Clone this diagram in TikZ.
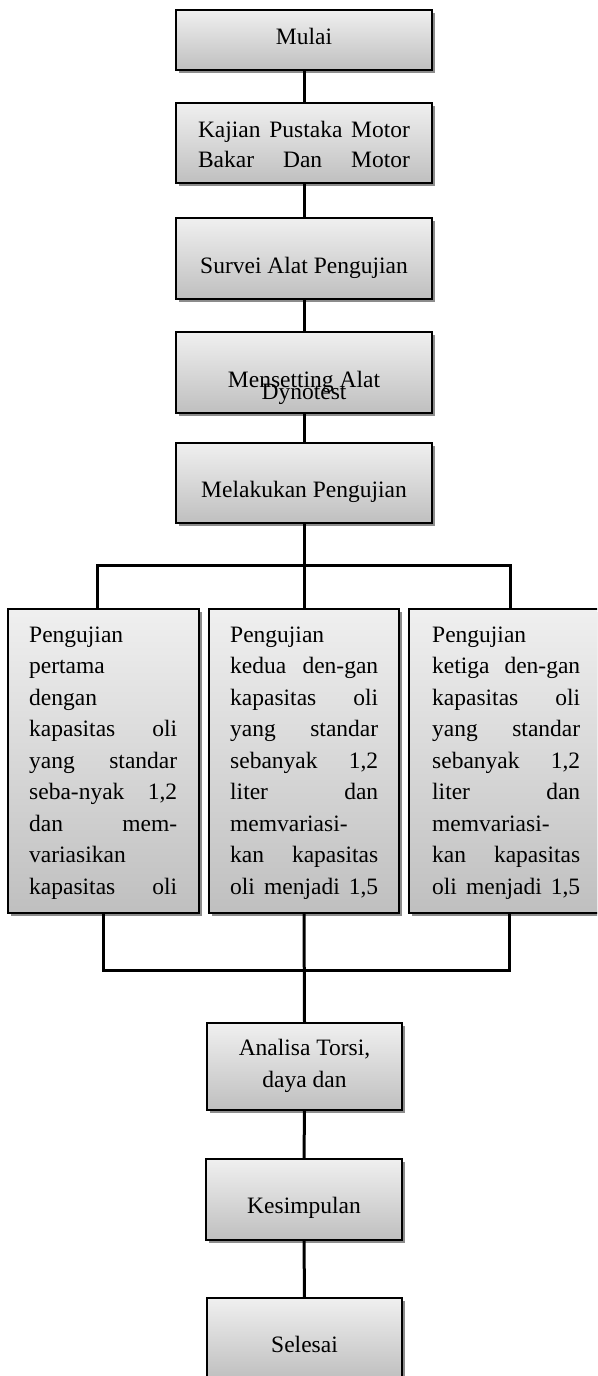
\documentclass[tikz,border=0pt]{standalone}
\usepackage{fontspec}
\setmainfont{Liberation Serif}
\usetikzlibrary{shadows}
\newcommand\jl[1]{\hbox to\hsize{#1}}
\newcommand\sidetext[1]{\vtop{\hsize=148pt\baselineskip=31.5pt\lineskiplimit=-100pt #1}}
\begin{document}
\begin{tikzpicture}[x=1pt,y=-1pt,
  box/.style={draw=black, line width=1.6pt, top color=black!6, bottom color=black!25,
    drop shadow={shadow xshift=3pt,shadow yshift=-3pt,fill=black!45,opacity=1},
    inner sep=0pt},
  txt/.style={font=\fontsize{23.5}{31.5}\selectfont, inner sep=0pt, anchor=base},
  stxt/.style={font=\fontsize{23.5}{31.5}\selectfont, inner sep=0pt, anchor=base west},
  conn/.style={line width=3pt, line join=miter}]
\clip (0,0) rectangle (597,1376);
\fill[white] (0,0) rectangle (597,1376);
% boxes
\node[box, minimum width=256pt, minimum height=60pt] (mulai) at (304,40) {};
\node[box, minimum width=256pt, minimum height=80pt] (kajian) at (304,143) {};
\node[box, minimum width=256pt, minimum height=81pt] (survei) at (304,258.5) {};
\node[box, minimum width=256pt, minimum height=81pt] (setting) at (304,372.5) {};
\node[box, minimum width=256pt, minimum height=80pt] (lakukan) at (304,483) {};
\node[box, minimum width=191pt, minimum height=304pt] (p1) at (103.5,761) {};
\node[box, minimum width=190pt, minimum height=304pt] (p2) at (304,761) {};
\node[box, minimum width=201pt, minimum height=304pt] (p3) at (509.5,761) {};
\node[box, minimum width=195pt, minimum height=87pt] (analisa) at (304.5,1066.5) {};
\node[box, minimum width=196pt, minimum height=81pt] (simpul) at (304,1199.5) {};
\node[box, minimum width=195pt, minimum height=81pt] (selesai) at (304.5,1338.5) {};
% connectors
\draw[conn] (mulai.south) -- (kajian.north);
\draw[conn] (kajian.south) -- (survei.north);
\draw[conn] (survei.south) -- (setting.north);
\draw[conn] (setting.south) -- (lakukan.north);
\draw[conn] (lakukan.south) -- (p2.north);
\coordinate (tl) at (97,565);
\coordinate (tr) at (510,565);
\draw[conn] (tl |- p1.north) -- (tl) -- (tr) -- (tr |- p3.north);
\coordinate (bl) at (103.5,970);
\coordinate (br) at (509.5,970);
\draw[conn] (p1.south) -- (bl) -- (br) -- (p3.south);
\draw[conn] (p2.south) -- (analisa.north);
\draw[conn] (analisa.south) -- (simpul.north);
\draw[conn] (simpul.south) -- (selesai.north);
% texts
\node[txt] (t1) at (304,44) {Mulai};
\node[txt] (t2a) at (304,137) {\hbox to 212pt{Kajian\hfill Pustaka\hfill Motor}};
\node[txt] (t2b) at (304,167) {\hbox to 212pt{Bakar\hfill Dan\hfill Motor}};
\node[txt] (t3) at (304,273) {Survei Alat Pengujian};
\node[txt] (t4a) at (304,387) {Mensetting Alat};
\node[txt] (t4b) at (304,399) {Dynotest};
\node[txt] (t5) at (304,497) {Melakukan Pengujian};
\node[stxt] (s1) at (29,642) {\sidetext{%
  \jl{Pengujian\hfil}
  \jl{pertama\hfil}
  \jl{dengan\hfil}
  \jl{kapasitas\hfill oli}
  \jl{yang\hfill standar}
  \jl{seba-nyak\hfill 1,2}
  \jl{dan\hfill mem-}
  \jl{variasikan\hfil}
  \jl{kapasitas\hfill oli}}};
\node[stxt] (s2) at (230,642) {\sidetext{%
  \jl{Pengujian\hfil}
  \jl{kedua\hfill den-gan}
  \jl{kapasitas\hfill oli}
  \jl{yang\hfill standar}
  \jl{sebanyak\hfill 1,2}
  \jl{liter\hfill dan}
  \jl{memvariasi-\hfil}
  \jl{kan\hfill kapasitas}
  \jl{oli\hfill menjadi\hfill 1,5}}};
\node[stxt] (s3) at (432,642) {\sidetext{%
  \jl{Pengujian\hfil}
  \jl{ketiga\hfill den-gan}
  \jl{kapasitas\hfill oli}
  \jl{yang\hfill standar}
  \jl{sebanyak\hfill 1,2}
  \jl{liter\hfill dan}
  \jl{memvariasi-\hfil}
  \jl{kan\hfill kapasitas}
  \jl{oli\hfill menjadi\hfill 1,5}}};
\node[txt] (t6a) at (304.5,1055) {Analisa Torsi,};
\node[txt] (t6b) at (304.5,1087) {daya dan};
\node[txt] (t7) at (304,1213) {Kesimpulan};
\node[txt] (t8) at (304.5,1352) {Selesai};
\end{tikzpicture}
\end{document}
